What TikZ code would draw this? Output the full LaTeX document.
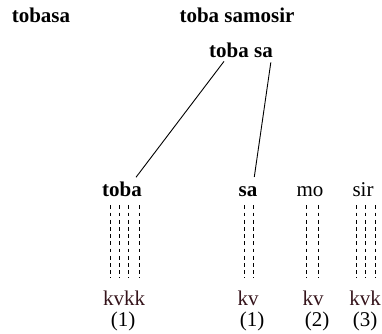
\documentclass[tikz,border=0pt]{standalone}
\usepackage{fontspec}
\setmainfont{Liberation Serif}
\usepackage{tikz}
\usetikzlibrary{calc}
\definecolor{pola}{HTML}{35141B}

\begin{document}
\begin{tikzpicture}[x=1pt, y=-1pt,
every node/.style={inner sep=0pt, anchor=base, font=\fontsize{21}{25}\selectfont},
word/.style={font=\fontsize{21}{25}\selectfont\bfseries},
syl/.style={},
pat/.style={text=pola},
num/.style={},
branch/.style={line width=0.9pt, black},
dashline/.style={dash pattern=on 3.8pt off 3.4pt, line width=0.9pt, black}]

\useasboundingbox (0,0) rectangle (382,333);

\node[word] (tobasa) at (41, 22) {tobasa};
\node[word] (samosir) at (237, 22) {toba samosir};
\node[word] (ts1) at (229, 57) {toba};
\node[word, anchor=base west] (ts2) at (254, 57) {sa};

\node[word] (toba) at (122, 196) {toba};
\node[word] (sa) at (248, 196) {sa};
\node[syl] (mo) at (310, 196) {mo};
\node[syl] (sir) at (363, 196) {sir};

\node[pat] (p1) at (124, 305) {kvkk};
\node[pat] (p2) at (248, 305) {kv};
\node[pat] (p3) at (313, 305) {kv};
\node[pat] (p4) at (365, 305) {kvk};

\node[num] (n1) at (123, 326) {(1)};
\node[num] (n2) at (252, 326) {(1)};
\node[num] (n3) at (317, 326) {(2)};
\node[num] (n4) at (365, 326) {(3)};

\draw ([xshift=-2pt]ts1.south) edge[branch, shorten <=5pt, shorten >=5pt] ([xshift=11pt]toba.north);
\draw ([xshift=8pt]ts2.south) edge[branch, shorten <=5pt, shorten >=9pt] ([xshift=5pt]sa.north);

\foreach \dx in {-12, -3, 6, 17}
  \draw[dashline] ($(toba.south) + (\dx, 9)$) -- ($(toba.south |- p1.north) + (\dx, -12)$);
\foreach \dx in {-4, 5}
  \draw[dashline] ($(sa.south) + (\dx, 9)$) -- ($(sa.south |- p2.north) + (\dx, -12)$);
\foreach \dx in {-4, 8}
  \draw[dashline] ($(mo.south) + (\dx, 9)$) -- ($(mo.south |- p3.north) + (\dx, -12)$);
\foreach \dx in {-7, 2, 12}
  \draw[dashline] ($(sir.south) + (\dx, 9)$) -- ($(sir.south |- p4.north) + (\dx, -12)$);

\end{tikzpicture}
\end{document}
